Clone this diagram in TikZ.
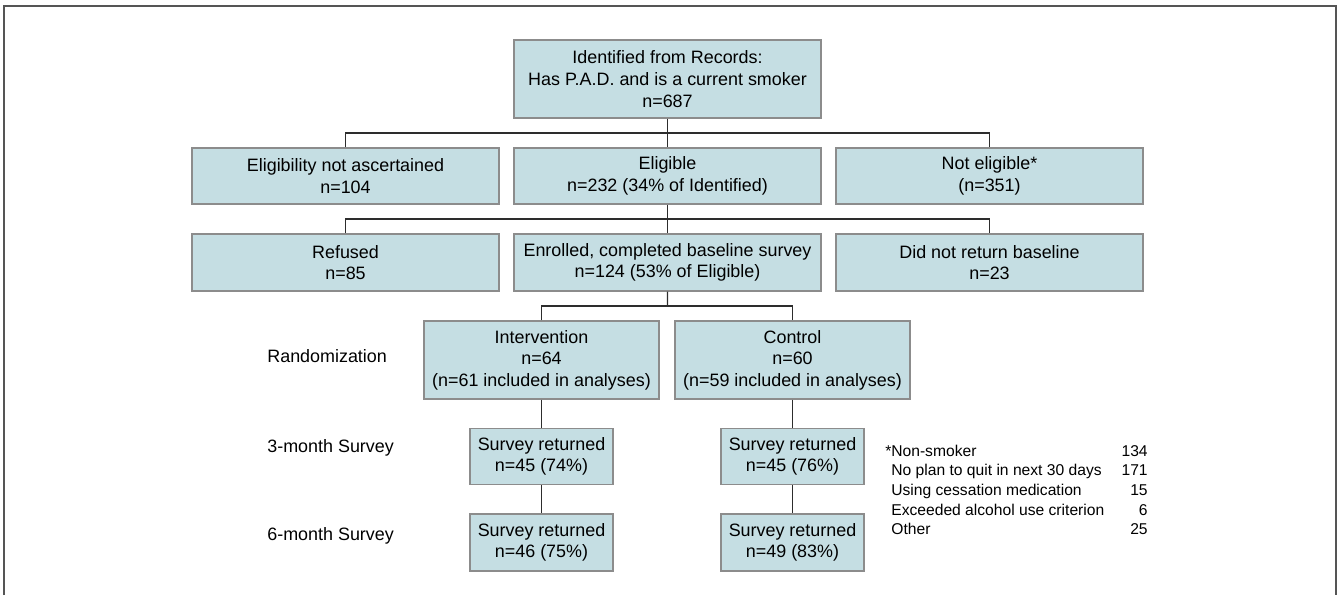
\documentclass[tikz,border=0pt]{standalone}
\usepackage{fontspec}
\setmainfont{Liberation Sans}
\usetikzlibrary{calc}
\definecolor{boxfill}{RGB}{197,222,227}
\definecolor{boxline}{RGB}{140,140,140}
\definecolor{linkline}{RGB}{45,45,45}
\definecolor{frameline}{RGB}{85,85,85}

\begin{document}
\begin{tikzpicture}[x=0.02cm, y=-0.02cm]

\tikzset{box/.style = {shape=rectangle, draw=boxline, line width=0.8pt, fill=boxfill, align=center, inner sep=0pt, font=\fontsize{10.2}{12.3}\selectfont}}
\tikzset{widebox/.style = {box, minimum width=6.14cm}}
\tikzset{armbox/.style = {box, minimum width=4.7cm, minimum height=1.56cm}}
\tikzset{surveybox/.style = {box, minimum width=2.86cm, minimum height=1.12cm}}
\tikzset{link/.style = {draw=linkline, line width=0.7pt}}
\tikzset{stage/.style = {anchor=base west, inner sep=0pt, font=\fontsize{10.2}{12.3}\selectfont}}
\tikzset{note/.style = {inner sep=0pt, font=\fontsize{8.9}{11.2}\selectfont}}

\useasboundingbox (0,0) rectangle (1341,595);
%frame
\draw[frameline, line width=1pt] (4,595) -- (4,6) -- (1336,6) -- (1336,595);

%boxes
\node[widebox, minimum height=1.56cm] (top) at (667.5,79) {Identified from Records:\\Has P.A.D. and is a current smoker\\n=687};
\node[widebox, minimum height=1.12cm] (elna) at (345.5,176) {Eligibility not ascertained\\n=104};
\node[widebox, minimum height=1.12cm] (elig) at (667.5,176) {Eligible\\n=232 (34\% of Identified)};
\node[widebox, minimum height=1.12cm] (nelig) at (989.5,176) {Not eligible*\\(n=351)};
\node[widebox, minimum height=1.14cm] (refused) at (345.5,262.5) {Refused\\n=85};
\node[widebox, minimum height=1.14cm] (enrol) at (667.5,262.5) {Enrolled, completed baseline survey\\n=124 (53\% of Eligible)};
\node[widebox, minimum height=1.14cm] (noret) at (989.5,262.5) {Did not return baseline\\n=23};
\node[armbox] (interv) at (541.5,360) {Intervention\\n=64\\(n=61 included in analyses)};
\node[armbox] (control) at (792.5,360) {Control\\n=60\\(n=59 included in analyses)};
\node[surveybox] (ret3a) at (541.5,456.5) {Survey returned\\n=45 (74\%)};
\node[surveybox, minimum height=1.14cm] (ret6a) at (541.5,542.5) {Survey returned\\n=46 (75\%)};
\node[surveybox] (ret3b) at (792.5,456.5) {Survey returned\\n=45 (76\%)};
\node[surveybox, minimum height=1.14cm] (ret6b) at (792.5,542.5) {Survey returned\\n=49 (83\%)};

%stage labels
\node[stage] (rand) at (267,362) {Randomization};
\node[stage] (month3) at (267,452) {3-month Survey};
\node[stage] (month6) at (267,540) {6-month Survey};

%links
\coordinate (j1) at ($(top.south)!0.5!(elig.north)$);
\coordinate (j2) at ($(elig.south)!0.5!(enrol.north)$);
\coordinate (j3) at ($(enrol.south)!0.5!(enrol.south |- interv.north)$);
\draw[link] (top.south) -- (elig.north);
\draw[link] (elna.north) |- (j1) -| (nelig.north);
\draw[link] (elig.south) -- (enrol.north);
\draw[link] (refused.north) |- (j2) -| (noret.north);
\draw[link] (enrol.south) -- (j3);
\draw[link] (interv.north) |- (j3) -| (control.north);
\draw[link] (interv.south) -- (ret3a.north);
\draw[link] (ret3a.south) -- (ret6a.north);
\draw[link] (control.south) -- (ret3b.north);
\draw[link] (ret3b.south) -- (ret6b.north);

%footnote
\foreach \why/\num [count=\i from 0] in {\llap{*}Non-smoker/134, No plan to quit in next 30 days/171, Using cessation medication/15, Exceeded alcohol use criterion/6, Other/25}
{
  \node[note, anchor=base west] (why\i) at (891,{456+19.7*\i}) {\why};
  \node[note, anchor=base east] (num\i) at (1148,{456+19.7*\i}) {\num};
}

\end{tikzpicture}
\end{document}
